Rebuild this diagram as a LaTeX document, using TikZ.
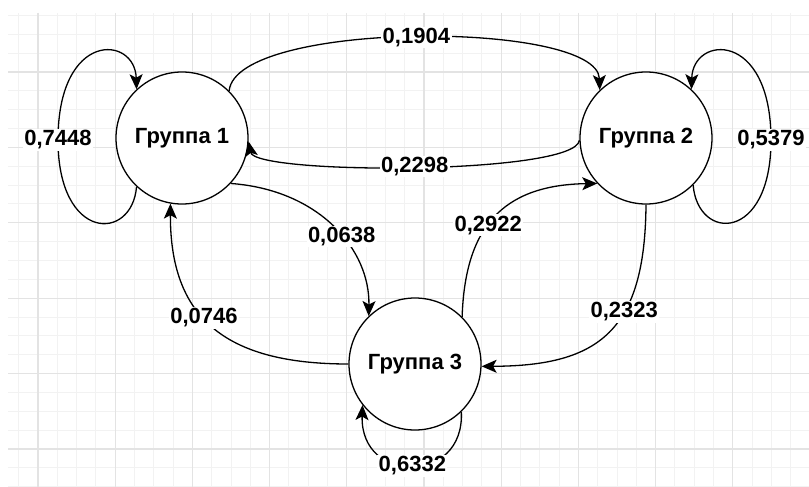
\documentclass[tikz,border=0pt]{standalone}
\usepackage{fontspec}
\setmainfont{Liberation Sans}
\usetikzlibrary{arrows.meta}
\begin{document}
\begin{tikzpicture}[x=1pt,y=-1pt,
  grp/.style={circle,draw,line width=1.3pt,fill=white,minimum size=132pt,inner sep=0pt,font=\bfseries\fontsize{22}{26}\selectfont},
  lbl/.style={fill=white,inner sep=1.5pt,font=\bfseries\fontsize{22}{26}\selectfont},
  arr/.style={line width=1.3pt,-{Stealth[length=15pt,width=13pt,inset=3.5pt]}}]
\useasboundingbox (0,0) rectangle (809,487);
\begin{scope}
\clip (8,13) rectangle (809,487);
\foreach \k in {-1,...,39} \draw[black!5,line width=1pt] ({38+19.3*\k},13) -- ({38+19.3*\k},487);
\foreach \k in {-3,...,22} \draw[black!5,line width=1pt] (8,{72+18.85*\k}) -- (809,{72+18.85*\k});
\foreach \k in {0,...,9} \draw[black!11,line width=1.2pt] ({38+77.2*\k},13) -- ({38+77.2*\k},487);
\foreach \k in {0,...,5} \draw[black!11,line width=1.2pt] (8,{72+75.4*\k}) -- (809,{72+75.4*\k});
\end{scope}
\node[grp] (g1) at (182,138) {Группа 1};
\node[grp] (g2) at (646,138) {Группа 2};
\node[grp] (g3) at (415,364) {Группа 3};
\draw[arr] (g1.227) .. controls (132,242) and (58,242) .. (58,140) node[lbl] {0,7448}
  .. controls (58,30) and (135,35) .. (g1.133);
\draw[arr] (g2.315) .. controls (698,242) and (771,242) .. (771,140) node[lbl] {0,5379}
  .. controls (771,30) and (693,35) .. (g2.47);
\draw[arr] (g1.45) .. controls (236,20) and (598,20) .. node[lbl] {0,1904} (g2.134);
\draw[arr] (g2.182) .. controls (575,175) and (255,175) .. node[lbl] {0,2298} (g1.-3);
\draw[arr] (g1.317) .. controls (320,190) and (370,250) .. node[lbl,pos=0.56] {0,0638} (g3.134);
\draw[arr] (g3.180) .. controls (223,364) and (170,316) .. node[lbl,pos=0.55] {0,0746} (g1.260);
\draw[arr] (g3.45) .. controls (465,230) and (500,185) .. node[lbl,pos=0.45] {0,2922} (g2.223);
\draw[arr] (g2.270) .. controls (645,330) and (600,366) .. node[lbl,pos=0.38] {0,2323} (g3.-2);
\draw[arr] (g3.314) .. controls (465,485) and (360,485) .. node[lbl] {0,6332} (g3.218);
\end{tikzpicture}
\end{document}
